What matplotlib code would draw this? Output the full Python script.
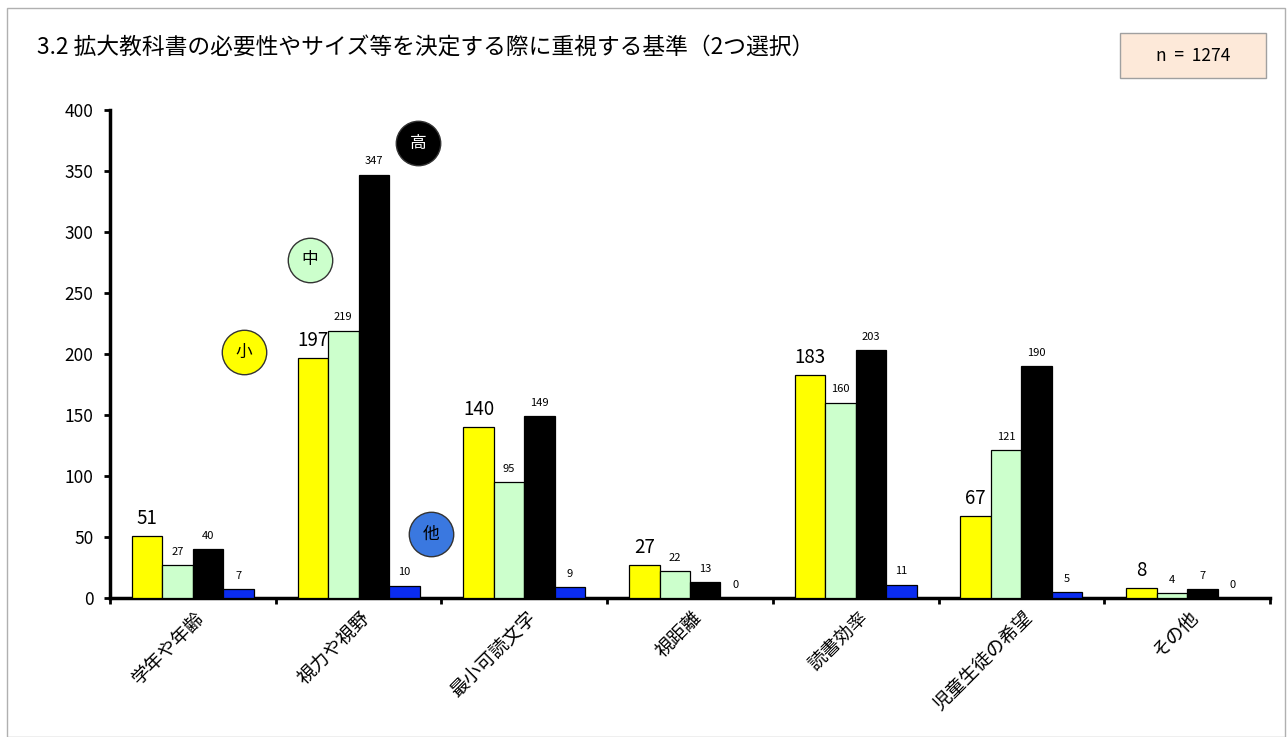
import numpy as np
import matplotlib.pyplot as plt
from matplotlib.patches import Rectangle

plt.rcParams['font.family'] = ['Noto Sans CJK JP', 'DejaVu Sans']

categories = ['学年や年齢', '視力や視野', '最小可読文字', '視距離', '読書効率', '児童生徒の希望', 'その他']
series_names = ['小', '中', '高', '他']
small = [51, 197, 140, 27, 183, 67, 8]
middle = [27, 219, 95, 22, 160, 121, 4]
high = [40, 347, 149, 13, 203, 190, 7]
other = [7, 10, 9, 0, 11, 5, 0]

colors = ['#ffff00', '#ccffcc', '#000000', '#0a2cf0']
badge_colors = ['#ffff00', '#ccffcc', '#000000', '#3a78e0']
badge_text = ['black', 'black', 'white', 'black']

fig = plt.figure(figsize=(12.87, 7.37), dpi=100)
# outer frame of the chart area
fig.patches.append(Rectangle((7 / 1287, 0), 1278 / 1287, 729 / 737, transform=fig.transFigure,
                             fill=False, edgecolor='#b0b0b0', linewidth=1.0))

ax = fig.add_axes([110 / 1287, 139 / 737, 1160 / 1287, 488 / 737])

x = np.arange(len(categories))
w = 0.184
for k, vals in enumerate([small, middle, high, other]):
    pos = x + (k - 1.5) * w
    ax.bar(pos, vals, width=w, color=colors[k], edgecolor='black', linewidth=0.9, zorder=3)
    for xi, v in zip(pos, vals):
        if k == 0:
            ax.annotate(str(v), (xi, v), xytext=(0, 5), textcoords='offset points',
                        ha='center', va='bottom', fontsize=13.5)
        else:
            ax.annotate(str(v), (xi, v), xytext=(0, 6), textcoords='offset points',
                        ha='center', va='bottom', fontsize=8)

ax.set_xlim(-0.5, len(categories) - 0.5)
ax.set_ylim(0, 400)
ax.set_yticks(np.arange(0, 401, 50))
ax.tick_params(axis='y', labelsize=12.5, length=4, width=2, pad=8)

# group separators on the x axis, labels at the group centres
ax.set_xticks(np.arange(len(categories) + 1) - 0.5)
ax.set_xticklabels([])
ax.tick_params(axis='x', length=4, width=2)
for xi, lab in zip(x, categories):
    ax.annotate(lab, (xi, 0), xytext=(6, -12), textcoords='offset points',
                rotation=45, rotation_mode='anchor', ha='right', va='center',
                fontsize=13.5, annotation_clip=False)

for s in ['top', 'right']:
    ax.spines[s].set_visible(False)
for s in ['left', 'bottom']:
    ax.spines[s].set_linewidth(2.5)

# series badges
badge_pos = [(0.1155, 0.504), (0.1724, 0.693), (0.2655, 0.932), (0.2767, 0.131)]
for (bx, by), name, fc, tc in zip(badge_pos, series_names, badge_colors, badge_text):
    ax.plot(bx, by, 'o', transform=ax.transAxes, markersize=32, markerfacecolor=fc,
            markeredgecolor='#333333', markeredgewidth=1.0, clip_on=False, zorder=5)
    ax.text(bx, by, name, transform=ax.transAxes, ha='center', va='center',
            fontsize=12, color=tc, zorder=6)

fig.text(37 / 1287, 1 - 48 / 737, '3.2 拡大教科書の必要性やサイズ等を決定する際に重視する基準（2つ選択）',
         ha='left', va='center', fontsize=16.4)

fig.patches.append(Rectangle((1120 / 1287, 1 - 78 / 737), 146 / 1287, 45 / 737,
                             transform=fig.transFigure, facecolor='#fde9d9',
                             edgecolor='#a0a0a0', linewidth=1.0))
fig.text(1193 / 1287, 1 - 56 / 737, 'n  =  1274', ha='center', va='center', fontsize=12.5)

fig.savefig('out.png', dpi=100)
